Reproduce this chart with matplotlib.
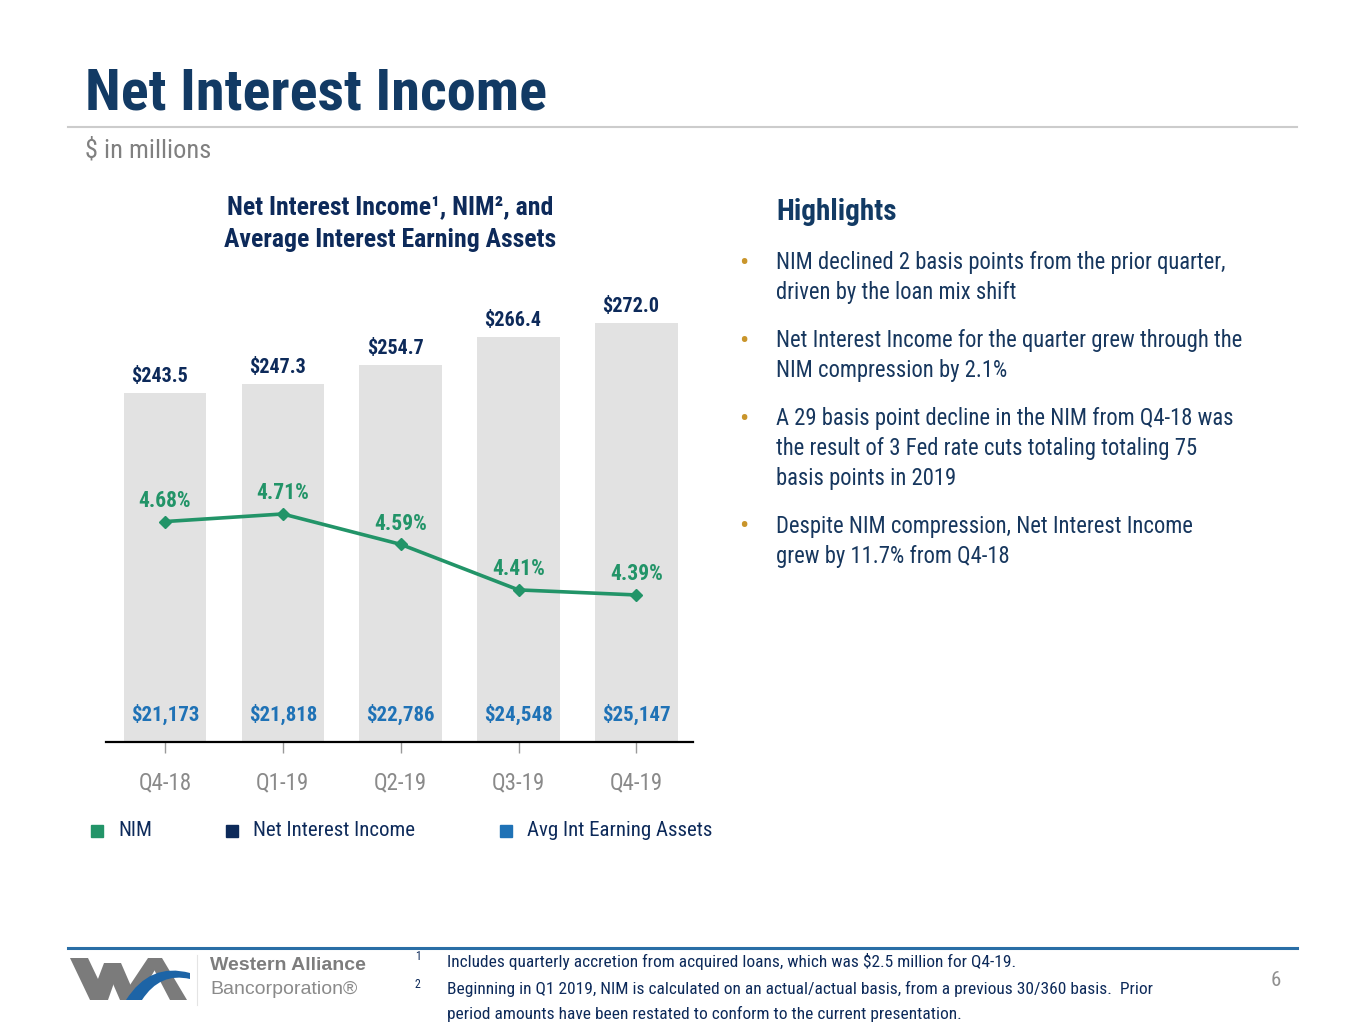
import matplotlib
matplotlib.use("Agg")
import matplotlib.pyplot as plt
from matplotlib import font_manager
from matplotlib.patches import Rectangle, PathPatch, Polygon
from matplotlib.lines import Line2D
from matplotlib.path import Path

# data
quarters = ["Q4-18", "Q1-19", "Q2-19", "Q3-19", "Q4-19"]
net_interest_income = [243.5, 247.3, 254.7, 266.4, 272.0]
nim_pct = [4.68, 4.71, 4.59, 4.41, 4.39]
avg_earning_assets = [21173, 21818, 22786, 24548, 25147]

highlights = [
    ["NIM declined 2 basis points from the prior quarter,", "driven by the loan mix shift"],
    ["Net Interest Income for the quarter grew through the", "NIM compression by 2.1%"],
    ["A 29 basis point decline in the NIM from Q4-18 was",
     "the result of 3 Fed rate cuts totaling totaling 75", "basis points in 2019"],
    ["Despite NIM compression, Net Interest Income", "grew by 11.7% from Q4-18"],
]
footnotes = [
    ("1", ["Includes quarterly accretion from acquired loans, which was $2.5 million for Q4-19."]),
    ("2", ["Beginning in Q1 2019, NIM is calculated on an actual/actual basis, from a previous 30/360 basis.  Prior",
           "period amounts have been restated to conform to the current presentation."]),
]

NAVY = "#123a64"
DARK_NAVY = "#0d2a5a"
GREEN = "#229468"
BLUE = "#1f72b6"
GRAY = "#808080"
BAR_GRAY = "#e2e2e2"
GOLD = "#c9952b"

# pick a narrow sans with a bold weight, like the Arial Narrow of the slide
fonts = font_manager.fontManager.ttflist
wanted = ["Liberation Sans Narrow", "Roboto Condensed", "PT Sans Narrow", "Archivo Narrow",
          "Encode Sans Semi Condensed", "Asap Condensed"]
family = "Liberation Sans"
for name in wanted:
    weights = [f.weight for f in fonts if f.name == name]
    if any(w in (700, "bold") for w in weights) and any(w in (400, "normal") for w in weights):
        family = name
        break
plt.rcParams["font.family"] = [family, "Liberation Sans", "DejaVu Sans"]

W, H = 1365, 1024
fig = plt.figure(figsize=(W / 100, H / 100), dpi=100)


def fx(x):
    return x / W


def fy(y):
    return 1 - y / H


# header
fig.text(fx(85), fy(110), "Net Interest Income", fontsize=42, fontweight="bold",
         color=NAVY, va="baseline")
fig.add_artist(Line2D([fx(68), fx(1297)], [fy(127), fy(127)], color="#cccccc", lw=1.5))
fig.text(fx(85), fy(150), "$ in millions", fontsize=19, color=GRAY, va="center")

# chart title
fig.text(fx(390), fy(208), "Net Interest Income¹, NIM², and", fontsize=18.5,
         fontweight="bold", color=DARK_NAVY, ha="center", va="center")
fig.text(fx(390), fy(240), "Average Interest Earning Assets", fontsize=18.5,
         fontweight="bold", color=DARK_NAVY, ha="center", va="center")

# chart
ax_left, ax_right, ax_bottom, ax_top = 106, 693, 742, 290
ax = fig.add_axes([fx(ax_left), fy(ax_bottom), fx(ax_right - ax_left), (ax_bottom - ax_top) / H])
xs = list(range(len(quarters)))
ax.bar(xs, net_interest_income, width=0.7, color=BAR_GRAY, zorder=1)
ax.set_xlim(-0.5, 4.48)
ax.set_ylim(101.4, 285.4)
for x, v in zip(xs, net_interest_income):
    ax.annotate(f"${v:.1f}", (x, v), xytext=(-4, 5), textcoords="offset points",
                ha="center", va="bottom", fontsize=14.5, fontweight="bold", color=DARK_NAVY)
for x, v in zip(xs, avg_earning_assets):
    ax.text(x, 0.06, f"${v:,}", transform=ax.get_xaxis_transform(), ha="center",
            va="center", fontsize=15, fontweight="bold", color=BLUE)
for s in ["top", "left", "right"]:
    ax.spines[s].set_visible(False)
ax.spines["bottom"].set_linewidth(1.6)
ax.spines["bottom"].set_color("black")
ax.set_yticks([])
ax.set_xticks(xs)
ax.set_xticklabels(quarters, fontsize=16.5, color="#8a8a8a")
ax.tick_params(axis="x", length=8, width=1, color="#999999", pad=13)

ax2 = ax.twinx()
ax2.set_ylim(3.809, 5.595)
ax2.plot(xs, nim_pct, color=GREEN, lw=2.6, marker="D", markersize=6, zorder=3)
for x, v in zip(xs, nim_pct):
    ax2.annotate(f"{v:.2f}%", (x, v), xytext=(0, 7), textcoords="offset points",
                 ha="center", va="bottom", fontsize=15.5, fontweight="bold", color=GREEN)
ax2.axis("off")
ax2.set_xlim(-0.5, 4.48)

# legend
legend_items = [("NIM", GREEN, 97), ("Net Interest Income", DARK_NAVY, 232),
                ("Avg Int Earning Assets", BLUE, 506)]
for label, color, x0 in legend_items:
    fig.add_artist(Rectangle((fx(x0 - 6), fy(837)), 12 / W, 12 / H, color=color,
                             transform=fig.transFigure))
    fig.text(fx(x0 + 21), fy(831), label, fontsize=15, color=DARK_NAVY, va="center")

# highlights
fig.text(fx(776), fy(212), "Highlights", fontsize=21, fontweight="bold", color=NAVY,
         va="center")
y = 263
for item in highlights:
    fig.text(fx(744), fy(y), "•", fontsize=20, color=GOLD, va="center", ha="center")
    for line in item:
        fig.text(fx(776), fy(y), line, fontsize=16.3, color="#17375e", va="center")
        y += 29.5
    y += 19

# footer
fig.add_artist(Line2D([fx(68), fx(1297)], [fy(948), fy(948)], color="#2a6ea6", lw=2.2))
# logo
strokes = [
    [(70, 958), (88, 958), (108, 1000), (90, 1000)],
    [(90, 1000), (108, 1000), (121, 963), (104, 963)],
    [(104, 963), (121, 963), (137, 1000), (120, 1000)],
    [(120, 1000), (137, 1000), (162, 958), (148, 958)],
    [(148, 958), (162, 958), (187, 1000), (170, 1000)],
]
for pts in strokes:
    fig.add_artist(Polygon([(fx(a), fy(b)) for a, b in pts], closed=True, color="#7b7b7b",
                           transform=fig.transFigure, lw=0))
arc_pts = [(126, 1000), (150, 962), (190, 973), (190, 979), (160, 972), (142, 1000), (126, 1000)]
arc = Path([(fx(a), fy(b)) for a, b in arc_pts],
           [Path.MOVETO, Path.CURVE3, Path.CURVE3, Path.LINETO, Path.CURVE3, Path.CURVE3,
            Path.CLOSEPOLY])
fig.add_artist(PathPatch(arc, facecolor="#1d64a6", edgecolor="none", transform=fig.transFigure))
fig.add_artist(Line2D([fx(197), fx(197)], [fy(955), fy(1005)], color="#e4e4e4", lw=0.8))
fig.text(fx(210), fy(966), "Western Alliance", fontsize=14, fontweight="bold",
         color="#7d7d7d", va="center", family=["Liberation Sans", "DejaVu Sans"])
fig.text(fx(210), fy(990), "Bancorporation®", fontsize=14, color="#8a8a8a",
         va="center", family=["Liberation Sans", "DejaVu Sans"])

y = 961
for mark, lines in footnotes:
    fig.text(fx(415), fy(y - 4), mark, fontsize=8.5, color=DARK_NAVY, va="center")
    for line in lines:
        fig.text(fx(447), fy(y), line, fontsize=12.5, color=DARK_NAVY, va="center")
        y += 25
    y += 3
fig.text(fx(1276), fy(980), "6", fontsize=15, color="#909090", va="center", ha="center")

fig.savefig("out.png", dpi=100)
